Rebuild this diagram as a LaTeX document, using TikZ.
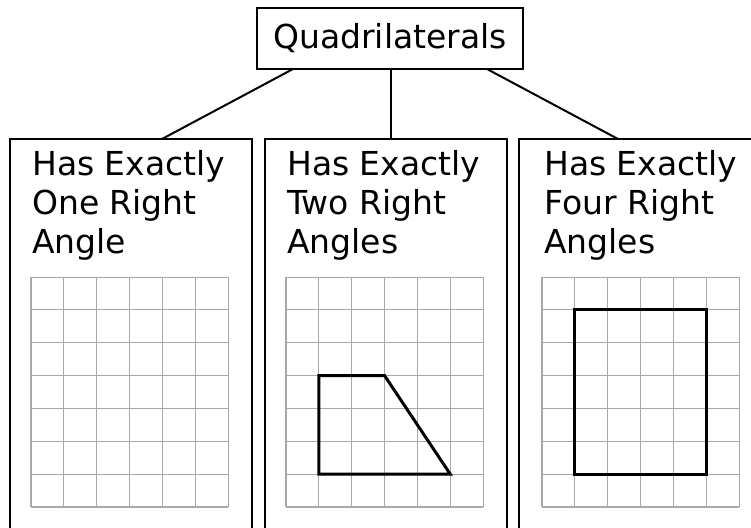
\documentclass[tikz,border=0pt]{standalone}
\usepackage{fontspec}
\setmainfont{DejaVu Sans}
\usetikzlibrary{calc}
\definecolor{gridgray}{HTML}{A8A8A8}
\tikzset{
  boxline/.style={draw=black, line width=2pt, outer sep=0pt},
  titlebox/.style={boxline, minimum width=266pt, minimum height=61pt, inner sep=0pt, font=\fontsize{33}{39}\selectfont},
  panelbox/.style={boxline, minimum width=242pt, minimum height=420pt, inner sep=0pt, anchor=north west},
  headtext/.style={anchor=base west, align=left, inner sep=0pt, font=\fontsize{33}{39}\selectfont},
  link/.style={draw=black, line width=2pt},
  gridline/.style={draw=gridgray, line width=1.1pt},
  shapeline/.style={draw=black, line width=3pt, line join=miter},
}
\newcommand{\sqgrid}{%
  \foreach \i in {0,...,6} {\draw[gridline] (\i,0) -- (\i,7);}
  \foreach \j in {0,...,7} {\draw[gridline] (0,\j) -- (6,\j);}
}
\begin{document}
\begin{tikzpicture}[x=1pt, y=-1pt]
\useasboundingbox (0,0) rectangle (751,527);
\clip (0,0) rectangle (751,527);
\fill[white] (0,0) rectangle (751,527);

\node[titlebox] (q) at (390,38.5) {Quadrilaterals};

\node[panelbox] (p1) at (10,139) {};
\node[panelbox] (p2) at (265,139) {};
\node[panelbox] (p3) at (519,139) {};

\draw[link] ($(q.south west)+(36,0)$) -- ($(p1.north west)+(152,0)$);
\draw[link] ($(q.south west)+(134,0)$) -- ($(p2.north west)+(126,0)$);
\draw[link] ($(q.south west)+(230,0)$) -- ($(p3.north west)+(99,0)$);

\node[headtext] (t1) at (32,253) {Has Exactly\\One Right\\Angle};
\node[headtext] (t2) at (287,253) {Has Exactly\\Two Right\\Angles};
\node[headtext] (t3) at (544,253) {Has Exactly\\Four Right\\Angles};

\begin{scope}[shift={(31,507)}, x=32.85pt, y=32.85pt]
  \sqgrid
\end{scope}
\begin{scope}[shift={(286,507)}, x=32.85pt, y=32.85pt]
  \sqgrid
  \draw[shapeline] (1,1) -- (5,1) -- (3,4) -- (1,4) -- cycle;
\end{scope}
\begin{scope}[shift={(542,507)}, x=32.85pt, y=32.85pt]
  \sqgrid
  \draw[shapeline] (1,1) rectangle (5,6);
\end{scope}
\end{tikzpicture}
\end{document}
